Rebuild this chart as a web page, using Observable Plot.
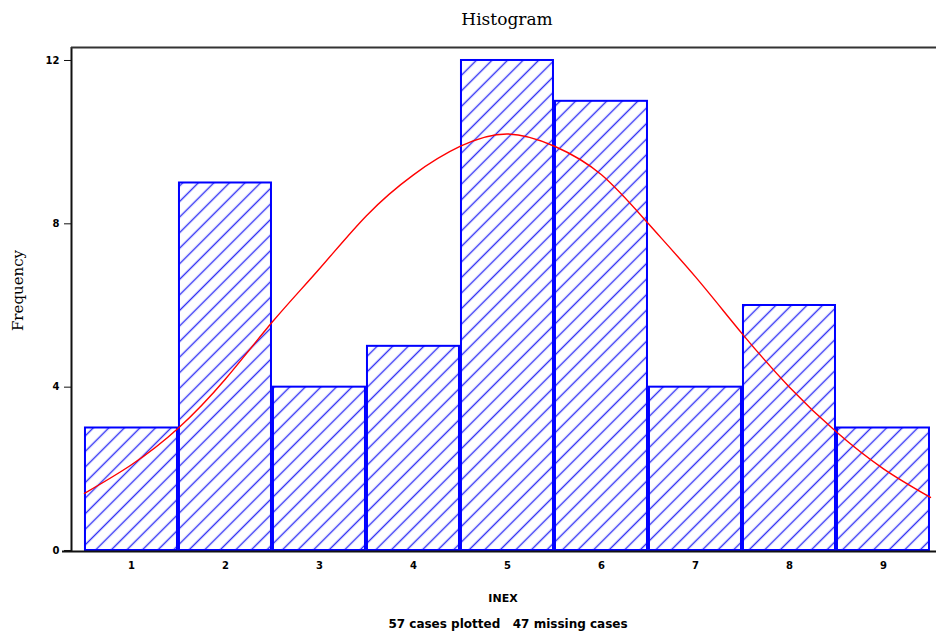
<!DOCTYPE html>
<html>
<head>
<meta charset="utf-8">
<script src="https://cdn.jsdelivr.net/npm/d3@7"></script>
<script src="https://cdn.jsdelivr.net/npm/@observablehq/plot@0.6"></script>
<style>
  html, body { margin: 0; padding: 0; background: #fff; }
</style>
</head>
<body>
<div id="chart"></div>
<script>
// ---- data ----
const bins = [1, 2, 3, 4, 5, 6, 7, 8, 9];
const counts = [3, 9, 4, 5, 12, 11, 4, 6, 3];
const curveX = [0.5, 1, 1.5, 2, 2.5, 3, 3.5, 4, 4.5, 5, 5.5, 6, 6.5, 7, 7.5, 8, 8.5, 9, 9.5];
const curveY = [1.4, 2.1, 3.0, 4.2, 5.6, 6.9, 8.2, 9.2, 9.9, 10.2, 9.9, 9.2, 8.0, 6.7, 5.3, 4.0, 2.9, 2.0, 1.3];
const yTicks = [0, 4, 8, 12];
const xTicks = bins;
const titleText = "Histogram";
const xLabel = "INEX";
const yLabel = "Frequency";
const caption = "57 cases plotted\u00a0\u00a0\u00a047 missing cases";

const bars = bins.map((b, i) => ({bin: b, count: counts[i]}));
const curve = curveX.map((x, i) => ({x, y: curveY[i]}));

const xDomain = [0.362, 9.564];
const yDomain = [-0.0245, 12.318];

const svg = Plot.plot({
  width: 936,
  height: 635,
  marginLeft: 71,
  marginRight: 0,
  marginTop: 47,
  marginBottom: 84,
  style: {fontFamily: "DejaVu Sans", fontSize: "10px", background: "white", color: "black"},
  x: {type: "linear", domain: xDomain},
  y: {type: "linear", domain: yDomain},
  marks: [
    Plot.rectY(bars, {
      x1: d => d.bin - 0.5, x2: d => d.bin + 0.5, y1: 0, y2: "count",
      fill: "url(#hatch)", stroke: "#0000ff", strokeWidth: 2,
      insetLeft: 1, insetRight: 1
    }),
    Plot.line(curve, {x: "x", y: "y", stroke: "#ff0000", strokeWidth: 1.4, curve: "natural"}),
    Plot.ruleX([xDomain[0]], {stroke: "#111", strokeWidth: 2}),
    Plot.ruleY([yDomain[1]], {stroke: "#333", strokeWidth: 2}),
    Plot.ruleY([yDomain[0]], {stroke: "#111", strokeWidth: 2, insetLeft: -9}),
    Plot.axisY({ticks: yTicks, tickSize: 7, tickPadding: 5, fontWeight: "bold", fontSize: 10, label: null, stroke: "#111"}),
    Plot.axisX({ticks: xTicks, tickSize: 0, tickPadding: 10, fontWeight: "bold", fontSize: 10, label: null}),
    Plot.text([titleText], {frameAnchor: "top", dx: 3, dy: -28, lineAnchor: "middle", textAnchor: "middle", fontFamily: "DejaVu Serif", fontSize: 17}),
    Plot.text([yLabel], {frameAnchor: "left", dx: -53, dy: -9, rotate: -90, lineAnchor: "middle", textAnchor: "middle", fontFamily: "DejaVu Serif", fontSize: 15}),
    Plot.text([xLabel], {frameAnchor: "bottom", dx: -1, dy: 47, lineAnchor: "middle", textAnchor: "middle", fontWeight: "bold", fontSize: 11}),
    Plot.text([caption], {frameAnchor: "bottom", dx: 4, dy: 73, lineAnchor: "middle", textAnchor: "middle", fontWeight: "bold", fontSize: 12})
  ]
});

const defs = d3.select(svg).insert("defs", ":first-child");
const pat = defs.append("pattern")
  .attr("id", "hatch")
  .attr("patternUnits", "userSpaceOnUse")
  .attr("width", 11)
  .attr("height", 11)
  .attr("patternTransform", "rotate(45)");
pat.append("rect").attr("width", 11).attr("height", 11).attr("fill", "white");
pat.append("line")
  .attr("x1", 5.5).attr("y1", -1).attr("x2", 5.5).attr("y2", 12)
  .attr("stroke", "#3030f5").attr("stroke-width", 1.4);

document.getElementById("chart").appendChild(svg);
</script>
</body>
</html>
